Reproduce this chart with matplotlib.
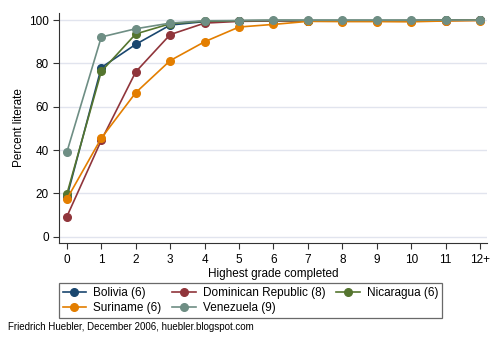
import matplotlib.pyplot as plt

grades = list(range(13))
tick_labels = ['0', '1', '2', '3', '4', '5', '6', '7', '8', '9', '10', '11', '12+']

bolivia = [18.3, 78.1, 88.8, 97.7, 99.3, 99.7, 99.8, 99.8, 99.8, 99.8, 99.8, 99.9, 100]
dominican = [9.3, 44.5, 76.1, 93.3, 98.6, 99.4, 99.6, 99.6, 99.6, 99.6, 99.7, 99.8, 99.9]
nicaragua = [19.7, 76.3, 93.6, 98.3, 99.5, 99.7, 99.8, 99.8, 99.8, 99.8, 99.8, 99.9, 100]
suriname = [17.4, 45.5, 66.5, 81.3, 90.0, 96.8, 98.0, 99.4, 99.3, 99.3, 99.2, 99.6, 99.8]
venezuela = [39.1, 92.2, 96.0, 98.6, 99.7, 99.8, 99.9, 99.9, 99.9, 99.9, 99.9, 100, 100]

series = [
    ('Bolivia (6)', bolivia, '#1a476f'),
    ('Dominican Republic (8)', dominican, '#90353b'),
    ('Nicaragua (6)', nicaragua, '#55752f'),
    ('Suriname (6)', suriname, '#e37e00'),
    ('Venezuela (9)', venezuela, '#6e8e84'),
]

plt.rcParams['font.family'] = ['Liberation Sans', 'DejaVu Sans']

fig = plt.figure(figsize=(5, 3.5), dpi=100)
ax = fig.add_axes([0.1186, 0.305, 0.974 - 0.1186, 0.9637 - 0.305])

lines = []
for name, vals, col in series:
    ln, = ax.plot(grades, vals, color=col, marker='o', markersize=5.5, linewidth=1.2, label=name)
    lines.append(ln)

ax.set_xlim(-0.22, 12.2)
ax.set_ylim(-3.0, 103.4)
ax.set_xticks(grades)
ax.set_xticklabels(tick_labels)
ax.set_yticks([0, 20, 40, 60, 80, 100])
ax.grid(axis='y', color='#e1e4ee', linewidth=1)
ax.set_axisbelow(True)
for s in ['top', 'right']:
    ax.spines[s].set_visible(False)
for s in ['left', 'bottom']:
    ax.spines[s].set_color('#333333')
ax.tick_params(labelsize=8.5, length=4, color='#333333')

ax.set_xlabel('Highest grade completed', fontsize=8.5, labelpad=2)
ax.set_ylabel('Percent literate', fontsize=8.5, labelpad=3)

# legend fills by column, so reorder to get the row order of the original
order = [0, 3, 1, 4, 2]
leg = fig.legend([lines[i] for i in order], [series[i][0] for i in order],
                 loc='upper left', bbox_to_anchor=(0.117, 0.191), ncol=3,
                 fontsize=8.5, frameon=True, fancybox=False, edgecolor='#444444',
                 handlelength=2.0, handletextpad=0.6, columnspacing=0.9,
                 borderpad=0.35, labelspacing=0.2, borderaxespad=0)
leg.get_frame().set_linewidth(0.9)

fig.text(0.016, 0.057, 'Friedrich Huebler, December 2006, huebler.blogspot.com', fontsize=7)

fig.savefig('out.png', dpi=100)
